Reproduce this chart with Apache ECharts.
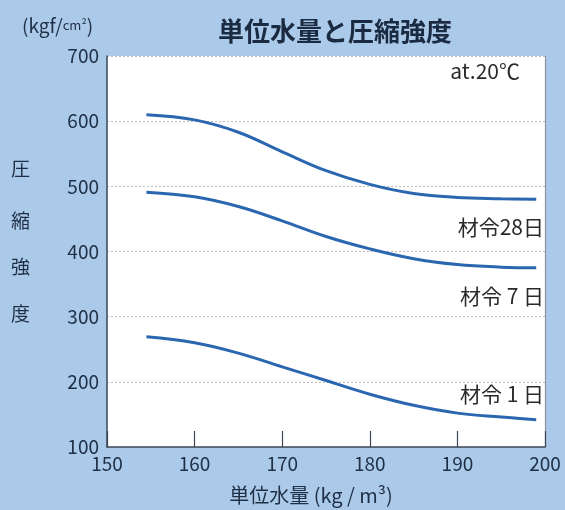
<!DOCTYPE html>
<html><head><meta charset="utf-8">
<script src="https://cdn.jsdelivr.net/npm/echarts@6/dist/echarts.min.js"></script>
<style>html,body{margin:0;padding:0;background:#abc9e9}#c{width:565px;height:510px}</style>
</head><body><div id="c"></div>
<script>
var waterContent = [154.5, 160, 165, 170, 175, 180, 185, 190, 195, 199];
var age28 = [610, 602, 583, 553, 524, 503, 489, 483, 481, 480];
var age7  = [491, 484, 469, 447, 423, 404, 389, 380, 376, 375];
var age1  = [269, 260, 244, 223, 202, 181, 164, 152, 146, 142];
var yTicks = [100, 200, 300, 400, 500, 600, 700];
var xTicks = [150, 160, 170, 180, 190, 200];

function pairs(v){ return waterContent.map(function(x,i){ return [x, v[i]]; }); }
var font = '"Noto Sans CJK JP", "Noto Sans", sans-serif';
var txt = '#1f2f45';
var lineStyle = {color:'#2b67b0', width:3};

var chart = echarts.init(document.getElementById('c'));
chart.setOption({
  backgroundColor:'#abc9e9',
  animation:false,
  title:{text:'単位水量と圧縮強度', left:330, top:13, textAlign:'center',
    textStyle:{fontFamily:font, fontSize:26, fontWeight:'bold', color:'#1a2a40'}},
  grid:{left:107, right:20, top:56, bottom:62, show:true, backgroundColor:'#ffffff', borderWidth:0},
  xAxis:{type:'value', min:150, max:200, interval:10,
    axisLine:{lineStyle:{color:'#3a4656', width:1.5}},
    axisTick:{inside:true, length:16, lineStyle:{color:'#3a4656', width:1.2}},
    axisLabel:{color:txt, fontSize:19, fontFamily:font, margin:7,
      showMinLabel:true, showMaxLabel:true},
    splitLine:{show:false},
    name:'単位水量 (kg / m³)', nameLocation:'middle', nameGap:38,
    nameTextStyle:{color:txt, fontSize:20, fontFamily:font, padding:[0,0,0,-30]}
  },
  yAxis:[{type:'value', min:100, max:700, interval:100,
    axisLine:{show:true, lineStyle:{color:'#3a4656', width:1.5}},
    axisTick:{show:false},
    axisLabel:{color:txt, fontSize:19, fontFamily:font, margin:8},
    splitLine:{show:true, lineStyle:{color:'#bdbdbd', type:[2,2], width:1}}
  },{type:'value', min:100, max:700, interval:100, position:'right',
    axisLine:{show:true, lineStyle:{color:'#8a939e', width:1.2}},
    axisTick:{show:false}, axisLabel:{show:false}, splitLine:{show:false}
  }],
  series:[
    {type:'line', data:pairs(age28), smooth:0.4, symbol:'none', lineStyle:lineStyle},
    {type:'line', data:pairs(age7), smooth:0.4, symbol:'none', lineStyle:lineStyle},
    {type:'line', data:pairs(age1), smooth:0.4, symbol:'none', lineStyle:lineStyle}
  ],
  graphic:[
    {type:'text', left:22, top:16, style:{text:'(kgf/{s|cm²})', fontFamily:font, fontSize:19, fill:txt,
      rich:{s:{fontSize:13, fill:txt, fontFamily:font}}}},
    {type:'text', left:11, top:159, style:{text:'圧', fontFamily:font, fontSize:19, fill:txt}},
    {type:'text', left:11, top:211, style:{text:'縮', fontFamily:font, fontSize:19, fill:txt}},
    {type:'text', left:11, top:257, style:{text:'強', fontFamily:font, fontSize:19, fill:txt}},
    {type:'text', left:11, top:304, style:{text:'度', fontFamily:font, fontSize:19, fill:txt}},
    {type:'text', right:45, top:61, style:{text:'at.20℃', fontFamily:font, fontSize:21, fill:'#2a2a2a'}},
    {type:'text', right:21, top:217, style:{text:'材令28日', fontFamily:font, fontSize:21, fill:'#2a2a2a'}},
    {type:'text', right:21, top:286, style:{text:'材令 7 日', fontFamily:font, fontSize:21, fill:'#2a2a2a'}},
    {type:'text', right:21, top:384, style:{text:'材令 1 日', fontFamily:font, fontSize:21, fill:'#2a2a2a'}}
  ]
});
</script></body></html>
